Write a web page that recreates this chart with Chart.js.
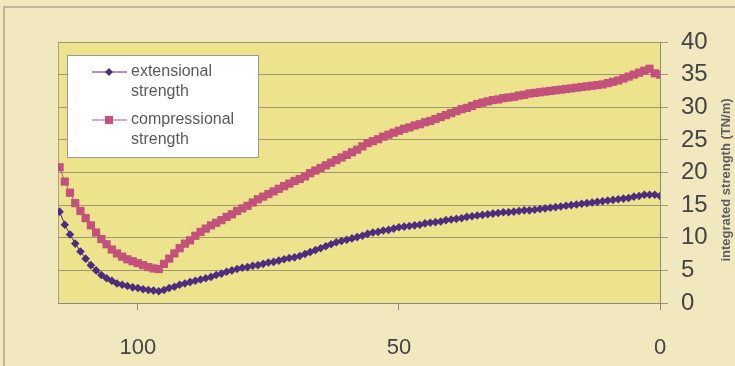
<!DOCTYPE html>
<html>
<head>
<meta charset="utf-8">
<script src="https://cdn.jsdelivr.net/npm/chart.js@4/dist/chart.umd.min.js"></script>
<style>
  body { margin: 0; background: #f2e8c0; }
  canvas { display: block; }
</style>
</head>
<body>
<canvas id="myChart" width="735" height="366"></canvas>
<script>
// depth-ish values along x, plotted right to left (115 -> 0)
let xValues = [115, 114, 113, 112, 111, 110, 109, 108, 107, 106, 105, 104, 103, 102, 101, 100,
    99, 98, 97, 96, 95, 94, 93, 92, 91, 90, 89, 88, 87, 86, 85, 84, 83, 82, 81, 80,
    79, 78, 77, 76, 75, 74, 73, 72, 71, 70, 69, 68, 67, 66, 65, 64, 63, 62, 61, 60,
    59, 58, 57, 56, 55, 54, 53, 52, 51, 50, 49, 48, 47, 46, 45, 44, 43, 42, 41, 40,
    39, 38, 37, 36, 35, 34, 33, 32, 31, 30, 29, 28, 27, 26, 25, 24, 23, 22, 21, 20,
    19, 18, 17, 16, 15, 14, 13, 12, 11, 10, 9, 8, 7, 6, 5, 4, 3, 2, 1, 0];

let extensional = [14.0, 12.0, 10.5, 9.1, 7.9, 6.8, 5.8, 5.0, 4.3, 3.8, 3.4, 3.0, 2.8, 2.6, 2.4, 2.3,
    2.1, 2.0, 1.9, 1.8, 2.0, 2.3, 2.5, 2.8, 3.0, 3.2, 3.4, 3.6, 3.8, 4.0, 4.3, 4.5, 4.8, 5.0, 5.2, 5.4,
    5.5, 5.7, 5.8, 6.0, 6.2, 6.3, 6.5, 6.7, 6.9, 7.0, 7.2, 7.5, 7.8, 8.1, 8.4, 8.7, 9.0, 9.3, 9.5, 9.7,
    9.9, 10.1, 10.3, 10.6, 10.8, 10.9, 11.1, 11.2, 11.4, 11.6, 11.7, 11.8, 11.9, 12.0, 12.2, 12.3, 12.4, 12.5, 12.7, 12.8,
    12.9, 13.0, 13.2, 13.3, 13.4, 13.5, 13.6, 13.7, 13.8, 13.9, 13.9, 14.0, 14.1, 14.2, 14.2, 14.3, 14.4, 14.5, 14.6, 14.7,
    14.8, 14.9, 15.0, 15.1, 15.2, 15.3, 15.4, 15.5, 15.6, 15.7, 15.8, 15.9, 16.0, 16.1, 16.3, 16.4, 16.6, 16.6, 16.6, 16.4];

let compressional = [20.8, 18.6, 16.9, 15.3, 14.1, 13.0, 11.9, 10.8, 9.8, 9.0, 8.2, 7.6, 7.1, 6.7, 6.4, 6.1,
    5.8, 5.5, 5.3, 5.2, 6.0, 6.8, 7.6, 8.4, 9.1, 9.6, 10.3, 10.9, 11.4, 11.9, 12.3, 12.7, 13.2, 13.6, 14.1, 14.5,
    14.9, 15.4, 15.9, 16.3, 16.7, 17.1, 17.5, 17.9, 18.3, 18.7, 19.0, 19.4, 19.9, 20.3, 20.7, 21.1, 21.5, 21.9, 22.3, 22.7,
    23.1, 23.5, 24.0, 24.5, 24.8, 25.1, 25.5, 25.8, 26.1, 26.4, 26.7, 26.9, 27.2, 27.4, 27.7, 27.9, 28.2, 28.5, 28.8, 29.1,
    29.4, 29.7, 29.9, 30.2, 30.5, 30.7, 30.9, 31.1, 31.2, 31.4, 31.5, 31.6, 31.8, 31.9, 32.1, 32.2, 32.3, 32.4, 32.5, 32.6,
    32.7, 32.8, 32.9, 33.0, 33.1, 33.2, 33.3, 33.4, 33.5, 33.7, 33.9, 34.1, 34.4, 34.7, 35.0, 35.3, 35.6, 35.9, 35.2, 35.0];

let xTicks = [100, 50, 0];
let seriesNames = ['extensional strength', 'compressional strength'];
let yTitle = 'integrated strength (TN/m)';

let ctx = document.getElementById('myChart').getContext('2d');

let toPoints = (arr) => arr.map((v, i) => ({ x: xValues[i], y: v }));

// background, frame, plot area fill
const backdrop = {
    id: 'backdrop',
    beforeDraw(chart) {
        let c = chart.ctx;
        let a = chart.chartArea;
        c.save();
        c.fillStyle = '#f2e8c0';
        c.fillRect(0, 0, chart.width, chart.height);
        c.strokeStyle = '#aca58c';
        c.lineWidth = 1.5;
        c.strokeRect(4, 7, chart.width + 10, chart.height + 10);
        c.fillStyle = '#eee38d';
        c.fillRect(a.left, a.top, a.right - a.left, a.bottom - a.top);
        c.strokeStyle = '#a9a386';
        c.lineWidth = 1;
        c.strokeRect(a.left + 0.5, a.top + 0.5, a.right - a.left, a.bottom - a.top);
        c.restore();
    }
};

// legend box with two-line labels + rotated y title
const extras = {
    id: 'extras',
    afterDraw(chart) {
        let c = chart.ctx;
        c.save();
        c.fillStyle = '#ffffff';
        c.fillRect(67, 55, 191, 102);
        c.strokeStyle = '#9a9a9a';
        c.lineWidth = 1;
        c.strokeRect(67.5, 55.5, 191, 102);
        c.font = '16px "Liberation Sans", Arial, sans-serif';
        c.textBaseline = 'middle';
        let rows = [72, 120];
        chart.data.datasets.forEach((ds, i) => {
            let y = rows[i];
            c.strokeStyle = ds.borderColor;
            c.lineWidth = 1;
            c.beginPath();
            c.moveTo(92, y);
            c.lineTo(127, y);
            c.stroke();
            c.fillStyle = ds.backgroundColor;
            if (ds.pointStyle === 'rect') {
                c.fillRect(105, y - 4, 8, 8);
            } else {
                c.beginPath();
                c.moveTo(109, y - 4);
                c.lineTo(113, y);
                c.lineTo(109, y + 4);
                c.lineTo(105, y);
                c.closePath();
                c.fill();
            }
            c.fillStyle = '#5a5a5a';
            let words = ds.label.split(' ');
            c.fillText(words[0], 131, y);
            c.fillText(words[1], 131, y + 20);
        });
        c.translate(726, 180);
        c.rotate(-Math.PI / 2);
        c.textAlign = 'center';
        c.font = 'bold 13px "Liberation Sans", Arial, sans-serif';
        c.fillStyle = '#5e5e5e';
        c.fillText(yTitle, 0, 0);
        c.restore();
    }
};

let myChart = new Chart(ctx, {
    type: 'line',
    data: {
        datasets: [{
            label: seriesNames[0],
            data: toPoints(extensional),
            borderColor: '#4e2c7e',
            backgroundColor: '#4e2c7e',
            borderWidth: 1,
            pointStyle: 'rectRot',
            pointRadius: 4.3,
            pointBorderWidth: 0
        }, {
            label: seriesNames[1],
            data: toPoints(compressional),
            borderColor: '#c2527c',
            backgroundColor: '#c2527c',
            borderWidth: 1,
            pointStyle: 'rect',
            pointRadius: 5.8,
            pointBorderWidth: 0
        }]
    },
    options: {
        responsive: false,
        animation: false,
        layout: { padding: { left: 58, top: 42, right: 0, bottom: 0 } },
        plugins: {
            legend: { display: false },
            tooltip: { enabled: false }
        },
        scales: {
            x: {
                type: 'linear',
                reverse: true,
                min: 0,
                max: 115.3,
                afterBuildTicks: (scale) => { scale.ticks = xTicks.map(v => ({ value: v })); },
                afterFit: (scale) => { scale.height = 63; },
                grid: { drawOnChartArea: false, tickLength: 7, color: '#8a8a8a' },
                border: { color: '#8a8a80' },
                ticks: {
                    padding: 25,
                    color: '#444444',
                    font: { family: '"Liberation Sans", Arial, sans-serif', size: 22 }
                }
            },
            y: {
                position: 'right',
                min: 0,
                max: 40,
                afterFit: (scale) => { scale.width = 75; },
                grid: { color: '#9d9870', tickLength: 8 },
                border: { color: '#8a8a80' },
                ticks: {
                    stepSize: 5,
                    padding: 13,
                    color: '#444444',
                    font: { family: '"Liberation Sans", Arial, sans-serif', size: 24 }
                }
            }
        }
    },
    plugins: [backdrop, extras]
});
</script>
</body>
</html>
